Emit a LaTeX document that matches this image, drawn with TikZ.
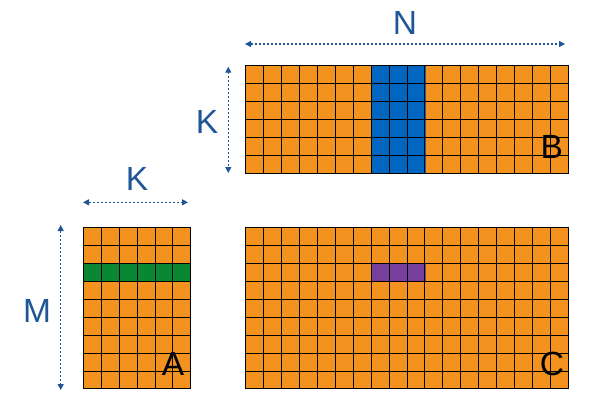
\documentclass[tikz,border=0pt]{standalone}
\usepackage{fontspec}
\setmainfont{Liberation Sans}
\usepackage{xcolor}
\usetikzlibrary{arrows.meta}

\begin{document}
\begin{tikzpicture}[x=1pt,y=1pt]
\definecolor{fillColor}{RGB}{255,255,255}
\definecolor{cellColor}{RGB}{243,146,30}
\definecolor{colColor}{RGB}{0,102,192}
\definecolor{rowColor}{RGB}{10,135,50}
\definecolor{outColor}{RGB}{120,62,155}
\definecolor{dimColor}{RGB}{31,86,150}
\tikzset{
  dimarrow/.style={draw=dimColor,line width=1.2pt,dash pattern=on 2pt off 2pt,
    {Triangle[length=6pt,width=6pt]}-{Triangle[length=6pt,width=6pt]}},
  dimlabel/.style={text=dimColor,anchor=base,inner sep=0pt,outer sep=0pt,
    font=\fontsize{33.5}{40}\selectfont},
  matlabel/.style={text=black,anchor=base,inner sep=0pt,outer sep=0pt,
    font=\fontsize{33.5}{40}\selectfont},
  gridline/.style={draw=black,line width=1.1pt,line cap=rect}
}
\path[use as bounding box,fill=fillColor] (0,0) rectangle (600,408);

% matrix B (K x N)
\path[fill=cellColor] (245.5,234.5) rectangle (568.5,342.5);
\path[fill=colColor] (371.5,234.5) rectangle (425.5,342.5);
\foreach \i [evaluate=\i as \xx using {floor(245.7+\i*17.93)+0.5}] in {0,...,18}
  \path[gridline] (\xx,234.5) -- (\xx,342.5);
\foreach \j [evaluate=\j as \yy using {floor(234.7+\j*17.93)+0.5}] in {0,...,6}
  \path[gridline] (245.5,\yy) -- (568.5,\yy);

% matrix A (M x K)
\path[fill=cellColor] (83.5,19.5) rectangle (190.5,180.5);
\path[fill=rowColor] (83.5,126.5) rectangle (190.5,144.5);
\foreach \i [evaluate=\i as \xx using {floor(83.3+\i*17.93)+0.5}] in {0,...,6}
  \path[gridline] (\xx,19.5) -- (\xx,180.5);
\foreach \j [evaluate=\j as \yy using {floor(19+\j*17.93)+0.5}] in {0,...,9}
  \path[gridline] (83.5,\yy) -- (190.5,\yy);

% matrix C (M x N)
\path[fill=cellColor] (245.5,19.5) rectangle (568.5,180.5);
\path[fill=outColor] (371.5,126.5) rectangle (425.5,144.5);
\foreach \i [evaluate=\i as \xx using {floor(245.7+\i*17.93)+0.5}] in {0,...,18}
  \path[gridline] (\xx,19.5) -- (\xx,180.5);
\foreach \j [evaluate=\j as \yy using {floor(19+\j*17.93)+0.5}] in {0,...,9}
  \path[gridline] (245.5,\yy) -- (568.5,\yy);

% dimension arrows
\coordinate (nL) at (245,364);
\coordinate (nR) at (565,364);
\coordinate (kbT) at (228.3,341.3);
\coordinate (kbB) at (228.3,235);
\coordinate (kaL) at (83,205.7);
\coordinate (kaR) at (188,205.7);
\coordinate (mT) at (60.7,183);
\coordinate (mB) at (60.7,18);
\path[dimarrow] (nL) -- (nR);
\path[dimarrow] (kbT) -- (kbB);
\path[dimarrow] (kaL) -- (kaR);
\path[dimarrow] (mT) -- (mB);

\node[dimlabel] (labN) at (405,373) {N};
\node[dimlabel] (labKb) at (207,275) {K};
\node[dimlabel] (labKa) at (137,217.3) {K};
\node[dimlabel] (labM) at (37,86) {M};

\node[matlabel] (labB) at (551.7,249.7) {B};
\node[matlabel] (labA) at (173,32.3) {A};
\node[matlabel] (labC) at (552,33) {C};
\end{tikzpicture}
\end{document}
